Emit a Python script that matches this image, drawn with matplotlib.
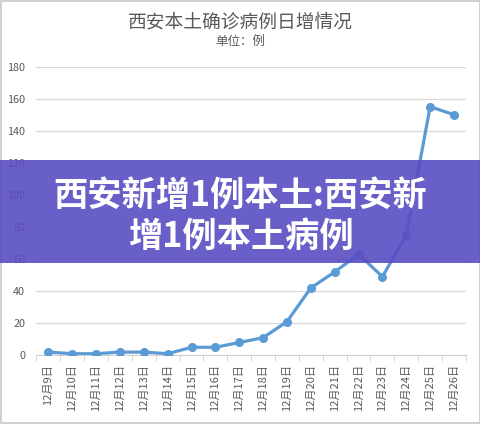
import matplotlib.pyplot as plt
from matplotlib.patches import Rectangle

plt.rcParams['font.family'] = ['Noto Sans CJK SC', 'DejaVu Sans']

dates = ['12月9日', '12月10日', '12月11日', '12月12日', '12月13日', '12月14日',
         '12月15日', '12月16日', '12月17日', '12月18日', '12月19日', '12月20日',
         '12月21日', '12月22日', '12月23日', '12月24日', '12月25日', '12月26日']
cases = [2, 1, 1, 2, 2, 1, 5, 5, 8, 11, 21, 42, 52, 63, 49, 75, 155, 150]
yticks = [0, 20, 40, 60, 80, 100, 120, 140, 160, 180]

title = '西安本土确诊病例日增情况'
subtitle = '单位：例'
banner = '西安新增1例本土:西安新\n增1例本土病例'

gray = '#595959'

fig = plt.figure(figsize=(4.81, 4.24), dpi=100)
fig.patch.set_facecolor('white')
fig.patch.set_edgecolor('#d0d0d0')
fig.patch.set_linewidth(1.5)

ax = fig.add_axes([0.0757, 0.162, 0.893, 0.681])
x = range(len(dates))
ax.plot(x, cases, color='#5B9BD5', lw=2.3, marker='o', ms=5.5, zorder=3)

ax.set_xlim(-0.5, len(dates) - 0.5)
ax.set_ylim(0, 180)
ax.set_yticks(yticks)
ax.set_yticklabels([str(v) for v in yticks], fontsize=7.8, color=gray)
ax.grid(axis='y', color='#d9d9d9', lw=0.9)
ax.set_axisbelow(True)
for s in ['top', 'right', 'left']:
    ax.spines[s].set_visible(False)
ax.spines['bottom'].set_color('#d0d0d0')
ax.tick_params(axis='y', length=0, pad=8)

ax.set_xticks(list(x))
ax.set_xticklabels(dates, rotation=90, fontsize=8, color=gray)
ax.set_xticks([i - 0.5 for i in range(len(dates) + 1)], minor=True)
ax.tick_params(axis='x', which='major', length=0, pad=6)
ax.tick_params(axis='x', which='minor', length=4, color='#d0d0d0')

fig.text(0.5, 1 - 22 / 424, title, ha='center', va='center', fontsize=13.5, color=gray)
fig.text(0.5, 1 - 41 / 424, subtitle, ha='center', va='center', fontsize=9, color=gray)

# purple banner over the chart
fig.patches.append(Rectangle((0, 1 - 263 / 424), 1, 103 / 424, transform=fig.transFigure,
                             facecolor='#594DC2', alpha=0.9, edgecolor='none', zorder=5))
fig.text(0.5, 1 - 216 / 424, banner, ha='center', va='center', fontsize=24.7,
         fontweight='heavy', color='white', linespacing=1.2, zorder=6)

plt.savefig('out.png', dpi=100)
